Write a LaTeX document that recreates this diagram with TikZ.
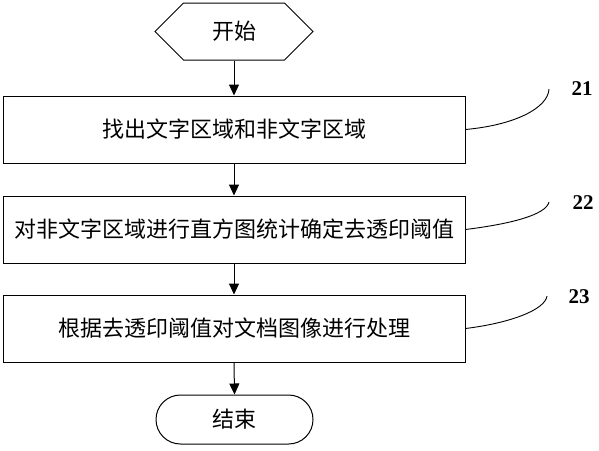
\documentclass[tikz,border=0pt]{standalone}
\usepackage{fontspec}
\setmainfont{Liberation Serif}
\newfontfamily\cjk{Noto Sans CJK SC}
\usetikzlibrary{arrows.meta, positioning, shapes.symbols, shapes.misc}

\begin{document}
\begin{tikzpicture}[x=1pt, y=-1pt]

  % Define styles
  \tikzstyle{start_hex} = [signal, draw, line width=1pt, signal to=west and east, signal pointer angle=90, minimum width=158pt, minimum height=57pt, inner sep=0pt, font=\cjk\fontsize{22}{22}\selectfont]
  \tikzstyle{stepbox} = [rectangle, draw, line width=1pt, minimum width=462pt, minimum height=67pt, inner sep=1pt, font=\cjk\fontsize{22}{22}\selectfont]
  \tikzstyle{end_pill} = [rounded rectangle, draw, line width=1pt, minimum width=157pt, minimum height=49pt, inner sep=0pt, font=\cjk\fontsize{22}{22}\selectfont]
  \tikzstyle{flow_arrow} = [draw, line width=1pt, -{Triangle[length=11pt, width=10pt]}]
  \tikzstyle{leader} = [draw, line width=0.9pt]
  \tikzstyle{num} = [inner sep=0pt, font=\bfseries\fontsize{21}{21}\selectfont]

  \useasboundingbox (0,0) rectangle (599,450);

  % Flow nodes
  \node[start_hex] (start) at (234, 31.5) {开始};
  \node[stepbox] (s1) at (234, 129.5) {找出文字区域和非文字区域};
  \node[stepbox] (s2) at (234, 229.5) {对非文字区域进行直方图统计确定去透印阈值};
  \node[stepbox] (s3) at (234, 328.5) {根据去透印阈值对文档图像进行处理};
  \node[end_pill] (stop) at (234.5, 419.5) {结束};

  % Flow connections
  \draw[flow_arrow] (start.south) -- (s1.north);
  \draw[flow_arrow] (s1.south) -- (s2.north);
  \draw[flow_arrow] (s2.south) -- (s3.north);
  \draw[flow_arrow] (s3.south) -- (stop.north);

  % Step numbers
  \node[num] (n21) at (582, 89) {21};
  \node[num] (n22) at (583, 203) {22};
  \node[num] (n23) at (579, 297) {23};

  \coordinate (c21) at (549, 89);
  \coordinate (c22) at (549, 202);
  \coordinate (c23) at (547, 296);

  % Leader curves
  \draw[leader] (s1.east) .. controls (515, 125) and (548, 108) .. (c21);
  \draw[leader] (s2.east) .. controls (510, 224) and (546, 215) .. (c22);
  \draw[leader] (s3.east) .. controls (510, 323) and (545, 310) .. (c23);

\end{tikzpicture}
\end{document}
